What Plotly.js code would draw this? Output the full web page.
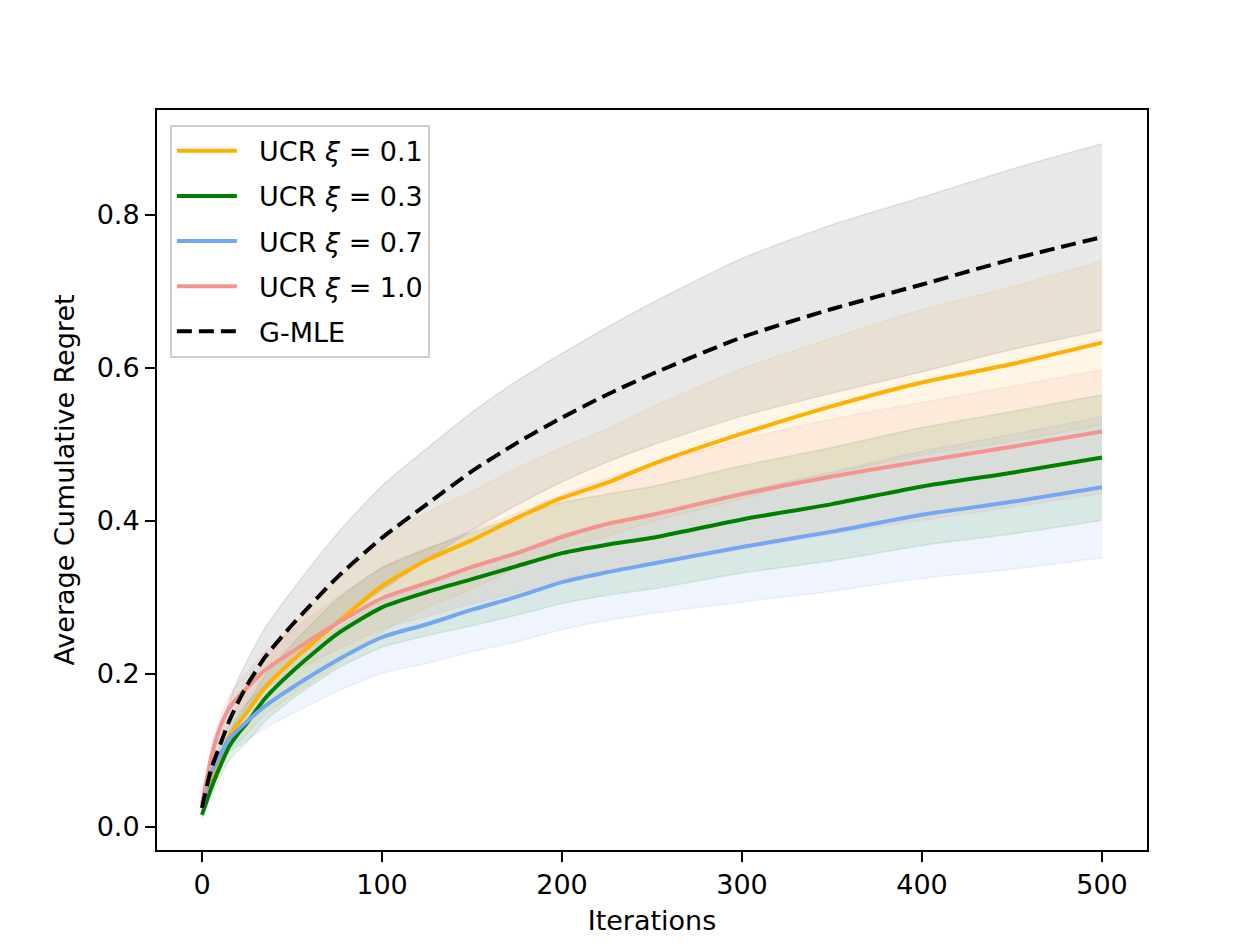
<!DOCTYPE html>
<html>
<head>
<meta charset="utf-8">
<script src="https://cdn.plot.ly/plotly-3.0.1.min.js"></script>
<style>
  html, body { margin: 0; padding: 0; background: #fff; }
  #chart { width: 1260px; height: 950px; }
</style>
</head>
<body>
<div id="chart"></div>
<script>
const iters = [0, 5, 10, 15, 20, 25, 35, 50, 75, 100, 125, 150, 175, 200, 225, 250, 300, 350, 400, 450, 500];

// mean cumulative regret per method
const ucr01 = [0.025, 0.060, 0.092, 0.118, 0.135, 0.150, 0.182, 0.217, 0.267, 0.315, 0.349, 0.375, 0.404, 0.430, 0.450, 0.474, 0.514, 0.550, 0.581, 0.605, 0.633];
const ucr03 = [0.016, 0.050, 0.079, 0.105, 0.122, 0.136, 0.168, 0.203, 0.252, 0.287, 0.307, 0.324, 0.341, 0.358, 0.369, 0.378, 0.402, 0.422, 0.445, 0.463, 0.483];
const ucr07 = [0.025, 0.070, 0.094, 0.115, 0.127, 0.138, 0.158, 0.182, 0.218, 0.248, 0.265, 0.284, 0.301, 0.320, 0.333, 0.344, 0.366, 0.386, 0.408, 0.425, 0.444];
const ucr10 = [0.030, 0.090, 0.130, 0.155, 0.170, 0.182, 0.205, 0.229, 0.266, 0.299, 0.319, 0.340, 0.358, 0.379, 0.396, 0.408, 0.435, 0.458, 0.478, 0.497, 0.517];
const gmle  = [0.025, 0.075, 0.107, 0.138, 0.163, 0.185, 0.222, 0.264, 0.326, 0.378, 0.422, 0.465, 0.502, 0.535, 0.565, 0.592, 0.640, 0.677, 0.709, 0.742, 0.771];

// half width of the shaded band (std) per method
const ucr01Std = [0.004, 0.010, 0.015, 0.020, 0.024, 0.028, 0.035, 0.045, 0.055, 0.060, 0.062, 0.064, 0.065, 0.066, 0.070, 0.075, 0.085, 0.089, 0.095, 0.101, 0.107];
const ucr03Std = [0.004, 0.010, 0.014, 0.018, 0.022, 0.025, 0.030, 0.036, 0.045, 0.052, 0.057, 0.061, 0.064, 0.066, 0.066, 0.067, 0.070, 0.074, 0.077, 0.080, 0.082];
const ucr07Std = [0.004, 0.010, 0.014, 0.018, 0.021, 0.024, 0.029, 0.034, 0.041, 0.047, 0.051, 0.055, 0.059, 0.062, 0.063, 0.065, 0.072, 0.078, 0.083, 0.088, 0.092];
const ucr10Std = [0.004, 0.010, 0.013, 0.016, 0.018, 0.020, 0.024, 0.028, 0.034, 0.040, 0.044, 0.048, 0.052, 0.055, 0.060, 0.065, 0.072, 0.075, 0.077, 0.079, 0.081];
const gmleStd  = [0.005, 0.015, 0.020, 0.025, 0.030, 0.032, 0.038, 0.045, 0.057, 0.068, 0.073, 0.077, 0.081, 0.084, 0.088, 0.093, 0.103, 0.110, 0.114, 0.118, 0.122];

const labels = ["UCR <i>ξ</i> = 0.1", "UCR <i>ξ</i> = 0.3", "UCR <i>ξ</i> = 0.7", "UCR <i>ξ</i> = 1.0", "G-MLE"];

const series = [
  { name: labels[0], y: ucr01, s: ucr01Std, color: "#FFB000", band: "rgba(255,165,0,0.10)" },
  { name: labels[1], y: ucr03, s: ucr03Std, color: "#008000", band: "rgba(0,128,0,0.10)" },
  { name: labels[2], y: ucr07, s: ucr07Std, color: "#74A7F2", band: "rgba(100,149,237,0.10)" },
  { name: labels[3], y: ucr10, s: ucr10Std, color: "#F4948F", band: "rgba(240,128,128,0.10)" },
  { name: labels[4], y: gmle,  s: gmleStd,  color: "#000000", band: "rgba(128,128,128,0.18)", dash: "15px,7px" }
];

const traces = [];

// bands first
series.forEach(function (d) {
  const lo = d.y.map((v, i) => v - d.s[i]);
  const hi = d.y.map((v, i) => v + d.s[i]);
  traces.push({
    x: iters, y: lo, type: "scatter", mode: "lines",
    line: { color: d.band, width: 1.5, shape: "spline", smoothing: 0.6 },
    hoverinfo: "skip", showlegend: false
  });
  traces.push({
    x: iters, y: hi, type: "scatter", mode: "lines",
    line: { color: d.band, width: 1.5, shape: "spline", smoothing: 0.6 },
    fill: "tonexty", fillcolor: d.band,
    hoverinfo: "skip", showlegend: false
  });
});

// then the mean lines
series.forEach(function (d, k) {
  traces.push({
    x: iters, y: d.y, type: "scatter", mode: "lines",
    name: "&nbsp;&nbsp;" + d.name, legendgroup: "g" + k,
    line: { color: d.color, width: 4, dash: d.dash || "solid", shape: "spline", smoothing: 0.6 }
  });
});

const axisStyle = {
  showline: true, mirror: true, linecolor: "#000", linewidth: 2,
  ticks: "outside", ticklen: 10, tickwidth: 2, tickcolor: "#000",
  showgrid: false, zeroline: false,
  tickfont: { family: "DejaVu Sans", size: 27, color: "#000" }
};

const layout = {
  width: 1260, height: 950,
  paper_bgcolor: "#fff", plot_bgcolor: "#fff",
  margin: { l: 157, r: 113, t: 110, b: 100 },
  font: { family: "DejaVu Sans", size: 27, color: "#000" },
  xaxis: Object.assign({}, axisStyle, {
    range: [-25, 525], tickvals: [0, 100, 200, 300, 400, 500],
    title: { text: "Iterations", standoff: 12, font: { size: 27 } }
  }),
  yaxis: Object.assign({}, axisStyle, {
    range: [-0.030, 0.937], tickvals: [0, 0.2, 0.4, 0.6, 0.8], tickformat: ".1f",
    title: { text: "Average Cumulative Regret", standoff: 14, font: { size: 27 } }
  }),
  legend: {
    x: 0.013, y: 0.98, xanchor: "left", yanchor: "top",
    bgcolor: "rgba(255,255,255,0.8)", bordercolor: "#d0d0d0", borderwidth: 2,
    font: { family: "DejaVu Sans", size: 27, color: "#000" },
    traceorder: "grouped", tracegroupgap: 7, itemwidth: 60
  },
  showlegend: true
};

Plotly.newPlot("chart", traces, layout, { displayModeBar: false, staticPlot: true });
</script>
</body>
</html>
